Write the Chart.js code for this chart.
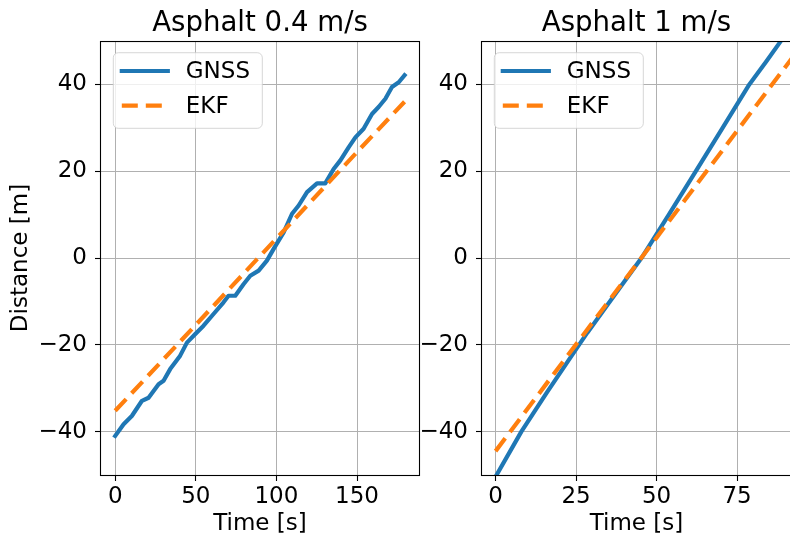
<!DOCTYPE html>
<html><head><meta charset="utf-8">
<script src="https://cdn.jsdelivr.net/npm/chart.js@4.4.0/dist/chart.umd.min.js"></script>
<style>
html,body{margin:0;padding:0;width:790px;height:542px;overflow:hidden;background:#fff;}
canvas{position:absolute;top:0;}
#cl{left:0;}
#cr{left:420px;}
</style></head><body>
<canvas id="cl" width="425" height="542"></canvas>
<canvas id="cr" width="380" height="542"></canvas>
<script>
// ---- data ----
const leftTitle = 'Asphalt 0.4 m/s';
const rightTitle = 'Asphalt 1 m/s';
const seriesNames = ['GNSS', 'EKF'];
const xLabel = 'Time [s]';
const yLabel = 'Distance [m]';
const yTicks = [-40, -20, 0, 20, 40];
const leftXTicks = [0, 50, 100, 150];
const rightXTicks = [0, 25, 50, 75];

const gnssTimeL = [0, 5.2, 10.3, 16.6, 20.7, 26.9, 30, 34.1, 40.3, 44.5, 49.7, 54.8, 61, 67.2, 70.3, 74.5, 79.7, 83.8, 89, 94.1, 98.3, 104.5, 109.7, 113.8, 119, 125.2, 130.3, 135.5, 139.7, 144.8, 149, 154.1, 159.3, 163.4, 167.6, 171.7, 175.9, 179.5];
const gnssDistL = [-41.0, -38.3, -36.4, -32.9, -32.2, -29.1, -28.3, -25.6, -22.5, -19.5, -17.5, -15.6, -12.9, -10.2, -8.7, -8.7, -6.0, -4.1, -2.9, -0.6, 2.1, 5.9, 10.2, 12.1, 15.2, 17.2, 17.2, 20.5, 22.5, 25.5, 27.8, 29.8, 33.2, 34.8, 36.7, 39.4, 40.5, 42.1];
const ekfTimeL = [0, 50, 100, 150, 179.5];
const ekfDistL = [-35.2, -15.4, 4.5, 24.4, 36.0];

const gnssTimeR = [0, 8.0, 16, 25.9, 28.5, 36, 45.3, 54, 62.2, 70.5, 78.8, 84, 88.8, 92.3];
const gnssDistR = [-50.4, -40, -30.9, -20, -17.2, -9.5, 0, 10.2, 20, 30, 40, 45.2, 50.2, 53.8];
const ekfTimeR = [0, 25, 50, 75, 92.3];
const ekfDistR = [-44.5, -19.9, 4.7, 29.3, 46.3];

// ---- rendering ----
Chart.defaults.font.family = '"DejaVu Sans", sans-serif';
Chart.defaults.color = '#000';

const toXY = (xs, ys) => xs.map((x, i) => ({x: x, y: ys[i]}));
const fmt = v => (v < 0 ? '\u2212' + Math.abs(v) : String(v));

const frameLegend = {
  id: 'frameLegend',
  afterDatasetsDraw(chart) {
    const {ctx, chartArea: a} = chart;
    ctx.save();
    ctx.strokeStyle = '#000';
    ctx.lineWidth = 1.1;
    ctx.strokeRect(a.left - 0.5, a.top + 0.5, a.right - a.left + 1, a.bottom - a.top);
    const bx = a.left + 12.3, by = a.top + 11.7, bw = 149, bh = 75.6;
    ctx.beginPath();
    ctx.roundRect(bx, by, bw, bh, 5);
    ctx.fillStyle = 'rgba(255,255,255,0.8)';
    ctx.fill();
    ctx.strokeStyle = 'rgba(204,204,204,0.8)';
    ctx.lineWidth = 1;
    ctx.stroke();
    chart.data.datasets.forEach((ds, i) => {
      const y = by + 18.3 + i * 34.7;
      ctx.beginPath();
      ctx.setLineDash(ds.borderDash || []);
      ctx.strokeStyle = ds.borderColor;
      ctx.lineWidth = ds.borderWidth;
      ctx.lineCap = ds.borderCapStyle || 'butt';
      ctx.moveTo(bx + 8.5, y);
      ctx.lineTo(bx + 54.5, y);
      ctx.stroke();
      ctx.setLineDash([]);
      ctx.fillStyle = '#000';
      ctx.font = '23px "DejaVu Sans"';
      ctx.textBaseline = 'middle';
      ctx.textAlign = 'left';
      ctx.fillText(ds.label, bx + 72.5, y + 1);
    });
    ctx.restore();
  }
};

function makeChart(id, title, gx, gy, ex, ey, xTicks, xMin, xMax, yAxisWidth, padRight, showYTitle) {
  return new Chart(document.getElementById(id), {
    type: 'line',
    data: {
      datasets: [
        {label: seriesNames[0], data: toXY(gx, gy), borderColor: '#1f77b4', backgroundColor: '#1f77b4',
         borderWidth: 4.2, pointRadius: 0, tension: 0, borderJoinStyle: 'round', borderCapStyle: 'square', clip: 0, order: 2},
        {label: seriesNames[1], data: toXY(ex, ey), borderColor: '#ff7f0e', backgroundColor: '#ff7f0e',
         borderWidth: 4.2, borderDash: [16, 8], pointRadius: 0, tension: 0, borderCapStyle: 'butt', clip: 0, order: 1}
      ]
    },
    options: {
      responsive: false, animation: false, events: [],
      layout: {padding: {left: 0, right: padRight, top: 0, bottom: 0}},
      plugins: {
        legend: {display: false}, tooltip: {enabled: false},
        title: {display: true, text: title, fullSize: false, color: '#000',
                font: {size: 27.6, weight: 'normal'}, padding: {top: 7, bottom: 0.9}}
      },
      scales: {
        x: {
          type: 'linear', min: xMin, max: xMax,
          afterFit: s => { s.height = 67; },
          afterBuildTicks: s => { s.ticks = xTicks.map(v => ({value: v})); },
          grid: {color: '#b0b0b0', lineWidth: 1, tickColor: '#000', tickWidth: 1.1, tickLength: 6, drawTicks: true},
          border: {display: false},
          ticks: {autoSkip: false, maxRotation: 0, padding: 2, font: {size: 23}, color: '#000', callback: v => fmt(v)},
          title: {display: true, text: xLabel, font: {size: 23}, color: '#000', padding: {top: 0, bottom: 4}}
        },
        y: {
          type: 'linear', min: -50, max: 50,
          afterFit: s => { s.width = yAxisWidth; },
          afterBuildTicks: s => { s.ticks = yTicks.map(v => ({value: v})); },
          grid: {color: '#b0b0b0', lineWidth: 1, tickColor: '#000', tickWidth: 1.1, tickLength: 6, drawTicks: true},
          border: {display: false},
          ticks: {autoSkip: false, padding: 8, font: {size: 23}, color: '#000', callback: v => fmt(v)},
          title: {display: showYTitle, text: yLabel, font: {size: 23}, color: '#000', padding: {top: 7, bottom: 0}}
        }
      }
    },
    plugins: [frameLegend]
  });
}

makeChart('cl', leftTitle, gnssTimeL, gnssDistL, ekfTimeL, ekfDistL, leftXTicks, -8.81, 188.46, 101, 6, true);
makeChart('cr', rightTitle, gnssTimeR, gnssDistR, ekfTimeR, ekfDistR, rightXTicks, -4.22, 91.74, 62, 9, false);
</script>
</body></html>
